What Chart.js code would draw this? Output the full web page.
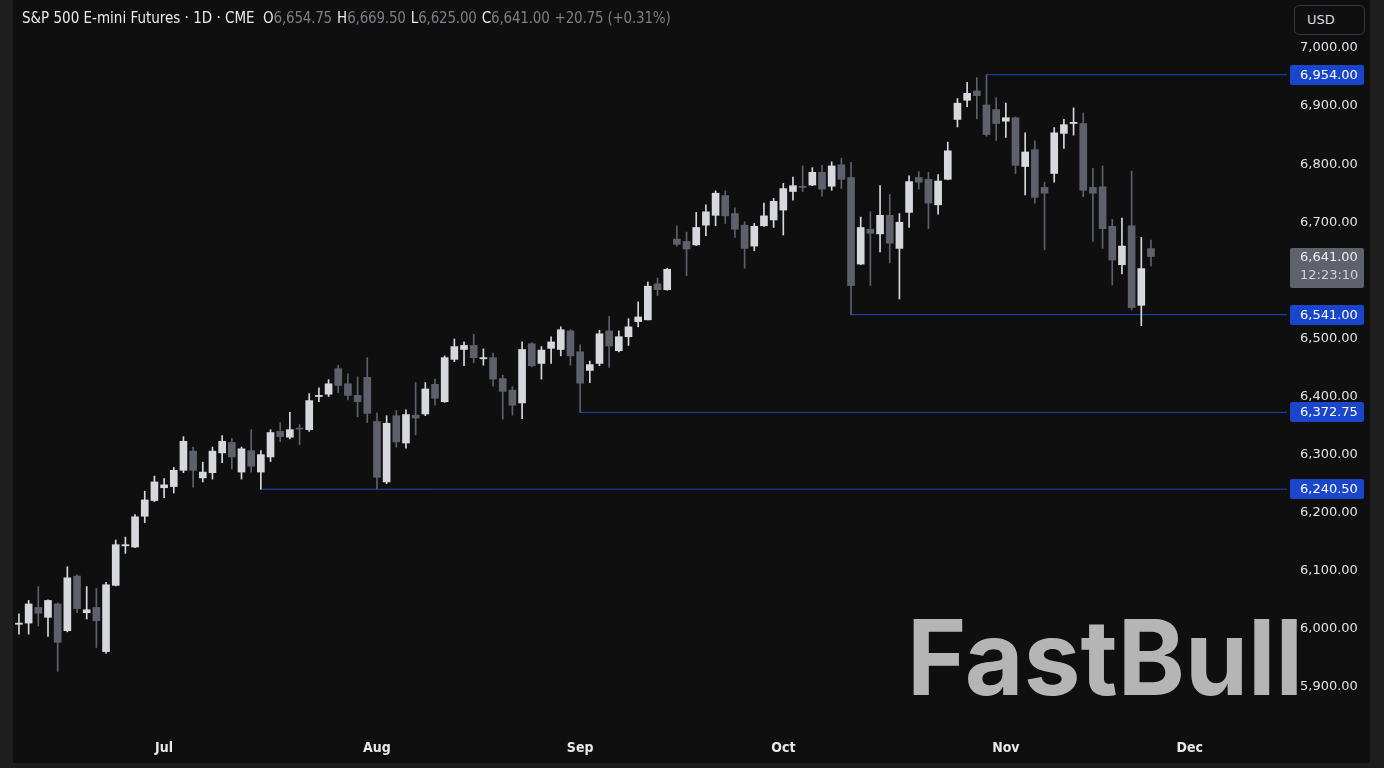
<!DOCTYPE html>
<html>
<head>
<meta charset="utf-8">
<title>S&amp;P 500 E-mini Futures</title>
<script src="https://cdn.jsdelivr.net/npm/chart.js@4.4.0/dist/chart.umd.min.js"></script>
<style>
  html, body { margin: 0; padding: 0; background: #1e1e1e; overflow: hidden; }
  .panel { position: absolute; left: 13px; top: 0; width: 1357px; height: 763px; background: #0f0f0f; }
  #myChart { position: absolute; left: 0; top: 0; }
  .head {
    position: absolute; left: 22px; top: 9px; white-space: nowrap;
    font-family: 'DejaVu Sans Condensed', 'DejaVu Sans', sans-serif; font-size: 15px; color: #e8eaee;
  }
  .head .v { color: #7c7f88; margin-right: 5px; letter-spacing: -0.2px; }
  .head .k { margin-left: 4px; }
  .usd {
    position: absolute; left: 1294px; top: 5px; width: 71px; height: 30px; box-sizing: border-box;
    border: 1px solid #363840; border-radius: 5px; background: #0f0f0f;
    font-family: 'DejaVu Sans', sans-serif; font-size: 13px; color: #d9dbe0;
    line-height: 28px; padding-left: 12px;
  }
</style>
</head>
<body>
<div class="panel"></div>
<canvas id="myChart" width="1384" height="768"></canvas>
<div class="head">S&amp;P 500 E-mini Futures · 1D · CME <span class="k">O</span><span class="v">6,654.75</span>H<span class="v">6,669.50</span>L<span class="v">6,625.00</span>C<span class="v">6,641.00</span><span class="v">+20.75 (+0.31%)</span></div>
<div class="usd">USD</div>
<script>
// daily candles, Jun 9 -> Nov 24 (one per trading day)
const opens = [
  6008, 6010, 6037, 6020, 6043, 5997, 6091, 6028, 6037, 5961,
  6075, 6143, 6141, 6194, 6221, 6243, 6245, 6273, 6306, 6260,
  6269, 6303, 6321, 6270, 6307, 6270, 6296, 6340, 6330, 6345,
  6343, 6400, 6404, 6448, 6422, 6402, 6433, 6357, 6253, 6367,
  6320, 6368, 6370, 6421, 6391, 6464, 6481, 6488, 6465, 6467,
  6431, 6411, 6389, 6491, 6457, 6483, 6481, 6513, 6477, 6445,
  6457, 6513, 6479, 6503, 6529, 6532, 6594, 6584, 6671, 6667,
  6661, 6695, 6712, 6746, 6715, 6695, 6659, 6694, 6704, 6721,
  6753, 6762, 6764, 6786, 6762, 6799, 6777, 6628, 6688, 6680,
  6712, 6655, 6717, 6777, 6774, 6730, 6774, 6877, 6910, 6926,
  6902, 6894, 6874, 6880, 6796, 6825, 6760, 6784, 6853, 6870,
  6870, 6760, 6761, 6693, 6627, 6694, 6557, 6654.75
];
const highs = [
  6026, 6049, 6073, 6050, 6045, 6107, 6093, 6073, 6070, 6080,
  6153, 6158, 6197, 6237, 6263, 6259, 6278, 6331, 6313, 6287,
  6313, 6333, 6328, 6313, 6343, 6307, 6343, 6355, 6373, 6352,
  6405, 6415, 6429, 6454, 6439, 6434, 6467, 6372, 6367, 6376,
  6377, 6424, 6424, 6430, 6470, 6499, 6494, 6507, 6482, 6475,
  6437, 6417, 6494, 6493, 6486, 6503, 6520, 6515, 6489, 6461,
  6514, 6538, 6513, 6534, 6563, 6597, 6604, 6621, 6694, 6683,
  6717, 6730, 6754, 6754, 6725, 6701, 6698, 6733, 6741, 6767,
  6778, 6797, 6794, 6798, 6804, 6810, 6803, 6709, 6718, 6763,
  6748, 6715, 6780, 6787, 6786, 6782, 6838, 6913, 6941, 6949,
  6954, 6914, 6905, 6881, 6854, 6840, 6769, 6863, 6877, 6897,
  6888, 6793, 6797, 6705, 6707, 6788, 6674, 6669.5
];
const lows = [
  5991, 5991, 6005, 5987, 5927, 5995, 6028, 6017, 5968, 5958,
  6074, 6130, 6140, 6183, 6219, 6226, 6234, 6269, 6244, 6253,
  6258, 6286, 6275, 6258, 6270, 6240.5, 6288, 6322, 6327, 6317,
  6340, 6391, 6400, 6407, 6394, 6365, 6355, 6241, 6250, 6313,
  6311, 6334, 6367, 6385, 6390, 6460, 6453, 6458, 6454, 6418,
  6361, 6368, 6362, 6451, 6430, 6457, 6470, 6454, 6372.75, 6424,
  6453, 6450, 6477, 6488, 6520, 6532, 6574, 6583, 6659, 6608,
  6660, 6677, 6694, 6698, 6674, 6621, 6651, 6693, 6691, 6678,
  6738, 6753, 6763, 6745, 6755, 6758, 6541, 6627, 6591, 6649,
  6630, 6568, 6691, 6757, 6689, 6714, 6773, 6864, 6899, 6878,
  6848, 6841, 6846, 6784, 6747, 6733, 6653, 6769, 6827, 6850,
  6744, 6667, 6655, 6592, 6611, 6549, 6522, 6625
];
const closes = [
  6010, 6043, 6027, 6049, 5977, 6088, 6035, 6033, 6014, 6076,
  6145, 6145, 6193, 6222, 6253, 6248, 6273, 6323, 6273, 6270,
  6306, 6323, 6296, 6310, 6280, 6300, 6338, 6331, 6343, 6344,
  6393, 6402, 6422, 6419, 6402, 6391, 6371, 6261, 6354, 6322,
  6369, 6363, 6413, 6397, 6467, 6486, 6488, 6467, 6467, 6430,
  6409, 6385, 6481, 6453, 6480, 6494, 6515, 6470, 6423, 6455,
  6508, 6487, 6503, 6520, 6537, 6590, 6584, 6619, 6662, 6654,
  6691, 6718, 6750, 6711, 6688, 6655, 6693, 6711, 6736, 6758,
  6763, 6760, 6786, 6757, 6797, 6774, 6591, 6691, 6681, 6712,
  6664, 6700, 6770, 6769, 6733, 6771, 6823, 6905, 6922, 6918,
  6851, 6870, 6880, 6798, 6821, 6743, 6750, 6854, 6868, 6872,
  6755, 6750, 6689, 6635, 6659, 6553, 6620.25, 6641
];

// month labels sit on the first trading day of each month (bar index)
const monthLabels = ['Jul', 'Aug', 'Sep', 'Oct', 'Nov', 'Dec'];
const monthIndex = [15, 37, 58, 79, 102, 121];

const priceTicks = [5900, 6000, 6100, 6200, 6300, 6400, 6500, 6600, 6700, 6800, 6900, 7000];

// horizontal levels and the bar they start from
const levelPrices = [6954, 6541, 6372.75, 6240.5];
const levelStart = [100, 86, 58, 25];

const lastPrice = 6641;
const countdown = '12:23:10';

const X_MIN = -0.41;
const X_MAX = 131.06;
const Y_MIN = 5826;
const Y_MAX = 7074;

const UP = '#d6d8de';
const DOWN = '#5e616b';
const BLUE = '#1a46cc';

const fmt = (v) => v.toLocaleString('en-US', { minimumFractionDigits: 2, maximumFractionDigits: 2 });

const colors = opens.map((o, i) => (closes[i] >= o ? UP : DOWN));
const wickData = opens.map((o, i) => ({ x: i, y: [lows[i], highs[i]] }));
const bodyData = opens.map((o, i) => ({ x: i, y: [o, closes[i]] }));

const levelSets = levelPrices.map((p, i) => ({
  type: 'line',
  data: [{ x: levelStart[i], y: p }, { x: X_MAX, y: p }],
  borderColor: '#2148c4',
  borderWidth: 1,
  pointRadius: 0,
  order: 5,
}));

const overlay = {
  id: 'overlay',
  afterDraw(chart) {
    const ctx = chart.ctx;
    const y = chart.scales.y;
    ctx.save();
    ctx.font = '13px "DejaVu Sans", sans-serif';
    ctx.textBaseline = 'middle';
    ctx.textAlign = 'left';

    levelPrices.forEach((p) => {
      const py = Math.round(y.getPixelForValue(p));
      ctx.fillStyle = BLUE;
      ctx.beginPath();
      ctx.roundRect(1290, py - 10, 74, 20, 2);
      ctx.fill();
      ctx.fillStyle = '#ffffff';
      ctx.fillText(fmt(p), 1300, py + 1);
    });

    const cy = Math.round(y.getPixelForValue(lastPrice));
    ctx.fillStyle = '#5f626c';
    ctx.beginPath();
    ctx.roundRect(1290, cy - 9, 74, 40, 2);
    ctx.fill();
    ctx.fillStyle = '#eceef2';
    ctx.fillText(fmt(lastPrice), 1300, cy + 1);
    ctx.fillStyle = '#d0d2d8';
    ctx.fillText(countdown, 1300, cy + 19);

    // watermark
    ctx.font = 'bold 104px Inter, sans-serif';
    ctx.textBaseline = 'alphabetic';
    const w = ctx.measureText('FastBull').width;
    ctx.translate(907, 695);
    ctx.scale(396 / w, 1);
    ctx.fillStyle = '#b5b5b5';
    ctx.fillText('FastBull', 0, 0);
    ctx.restore();
  },
};

const ctx = document.getElementById('myChart').getContext('2d');
const myChart = new Chart(ctx, {
  type: 'bar',
  data: {
    datasets: [
      {
        data: wickData,
        backgroundColor: colors,
        barThickness: 1,
        grouped: false,
        order: 2,
      },
      {
        data: bodyData,
        backgroundColor: colors,
        barThickness: 7,
        minBarLength: 1,
        grouped: false,
        order: 1,
      },
      ...levelSets,
    ],
  },
  options: {
    responsive: false,
    animation: false,
    events: [],
    layout: {
      padding: { left: 15, right: 14, top: 5, bottom: 8 },
    },
    plugins: {
      legend: { display: false },
      tooltip: { enabled: false },
    },
    scales: {
      x: {
        type: 'linear',
        min: X_MIN,
        max: X_MAX,
        offset: false,
        grid: { display: false, drawTicks: false },
        border: { display: false },
        afterBuildTicks: (scale) => {
          scale.ticks = monthIndex.map((v) => ({ value: v }));
        },
        afterFit: (scale) => {
          scale.height = 30;
          scale.paddingLeft = 0;
          scale.paddingRight = 0;
        },
        ticks: {
          autoSkip: false,
          maxRotation: 0,
          padding: 10,
          color: '#e6e8ec',
          font: { family: '"DejaVu Sans Condensed", "DejaVu Sans", sans-serif', size: 14, weight: 'bold' },
          callback: (v) => monthLabels[monthIndex.indexOf(v)] || '',
        },
      },
      y: {
        position: 'right',
        min: Y_MIN,
        max: Y_MAX,
        grid: { display: false, drawTicks: false },
        border: { display: false },
        afterBuildTicks: (scale) => {
          scale.ticks = priceTicks.map((v) => ({ value: v }));
        },
        afterFit: (scale) => {
          scale.width = 83;
          scale.paddingTop = 0;
          scale.paddingBottom = 0;
        },
        ticks: {
          padding: 13,
          color: '#e0e2e6',
          font: { family: '"DejaVu Sans", sans-serif', size: 13 },
          callback: (v) => fmt(v),
        },
      },
    },
  },
  plugins: [overlay],
});
</script>
</body>
</html>
